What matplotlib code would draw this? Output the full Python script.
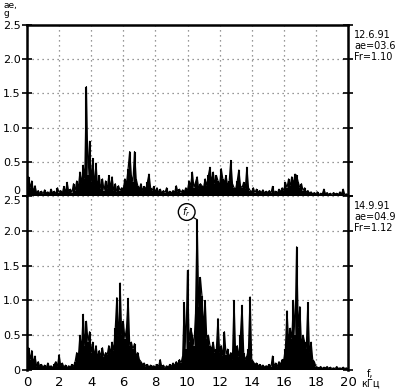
import matplotlib.pyplot as plt
import numpy as np

# spectrum values, 0.1 kHz step from 0 to 20 kHz
freq_khz = np.round(np.arange(0, 201) * 0.1, 1)

top_vals = [
    0.05, 0.28, 0.12, 0.22, 0.06, 0.15, 0.04, 0.08, 0.03, 0.07,
    0.03, 0.09, 0.04, 0.06, 0.03, 0.10, 0.04, 0.07, 0.03, 0.12,
    0.05, 0.08, 0.04, 0.14, 0.05, 0.20, 0.06, 0.10, 0.05, 0.18,
    0.08, 0.22, 0.12, 0.35, 0.18, 0.45, 0.25, 1.60, 0.30, 0.80,
    0.20, 0.55, 0.15, 0.48, 0.12, 0.30, 0.10, 0.25, 0.08, 0.22,
    0.10, 0.30, 0.12, 0.28, 0.08, 0.18, 0.06, 0.15, 0.08, 0.12,
    0.10, 0.25, 0.18, 0.40, 0.65, 0.30, 0.20, 0.65, 0.25, 0.15,
    0.10, 0.18, 0.08, 0.14, 0.10, 0.20, 0.32, 0.12, 0.08, 0.14,
    0.06, 0.12, 0.05, 0.10, 0.04, 0.08, 0.05, 0.12, 0.04, 0.07,
    0.04, 0.08, 0.05, 0.15, 0.06, 0.10, 0.05, 0.09, 0.06, 0.12,
    0.08, 0.22, 0.15, 0.35, 0.12, 0.20, 0.28, 0.10, 0.18, 0.15,
    0.12, 0.25, 0.15, 0.30, 0.42, 0.20, 0.35, 0.18, 0.30, 0.22,
    0.15, 0.40, 0.25, 0.20, 0.30, 0.15, 0.22, 0.52, 0.18, 0.12,
    0.10, 0.22, 0.38, 0.15, 0.12, 0.20, 0.10, 0.42, 0.12, 0.08,
    0.06, 0.12, 0.05, 0.10, 0.06, 0.08, 0.05, 0.09, 0.04, 0.07,
    0.05, 0.08, 0.04, 0.14, 0.05, 0.07, 0.04, 0.10, 0.06, 0.12,
    0.08, 0.20, 0.12, 0.25, 0.15, 0.28, 0.18, 0.32, 0.30, 0.20,
    0.12, 0.18, 0.08, 0.12, 0.05, 0.08, 0.04, 0.06, 0.03, 0.05,
    0.03, 0.06, 0.02, 0.04, 0.03, 0.10, 0.03, 0.05, 0.02, 0.04,
    0.02, 0.05, 0.03, 0.04, 0.02, 0.06, 0.03, 0.10, 0.02, 0.03,
    0.02,
]

bottom_vals = [
    0.05, 0.32, 0.15, 0.28, 0.10, 0.20, 0.05, 0.12, 0.04, 0.08,
    0.04, 0.07, 0.03, 0.10, 0.04, 0.06, 0.03, 0.08, 0.12, 0.05,
    0.22, 0.06, 0.10, 0.04, 0.07, 0.03, 0.06, 0.04, 0.08, 0.05,
    0.12, 0.25, 0.18, 0.50, 0.30, 0.80, 0.35, 0.70, 0.40, 0.55,
    0.25, 0.40, 0.20, 0.35, 0.18, 0.28, 0.20, 0.32, 0.18, 0.25,
    0.22, 0.35, 0.25, 0.40, 0.28, 0.60, 1.04, 0.40, 1.25, 0.50,
    0.70, 0.45, 0.60, 1.03, 0.35, 0.40, 0.30, 0.38, 0.20, 0.25,
    0.15, 0.12, 0.08, 0.10, 0.05, 0.08, 0.04, 0.07, 0.05, 0.06,
    0.04, 0.08, 0.05, 0.15, 0.04, 0.07, 0.03, 0.06, 0.04, 0.08,
    0.05, 0.10, 0.06, 0.12, 0.08, 0.15, 0.10, 0.20, 0.97, 0.30,
    1.43, 0.40, 0.60, 0.50, 0.35, 0.80, 2.16, 0.90, 1.33, 1.07,
    0.60, 1.00, 0.45, 0.50, 0.35, 0.30, 0.40, 0.25, 0.30, 0.74,
    0.25, 0.35, 0.20, 0.55, 0.22, 0.30, 0.18, 0.25, 0.15, 1.00,
    0.20, 0.35, 0.18, 0.50, 0.93, 0.25, 0.15, 0.20, 0.30, 1.05,
    0.15, 0.12, 0.08, 0.10, 0.06, 0.08, 0.05, 0.07, 0.04, 0.06,
    0.05, 0.08, 0.04, 0.20, 0.06, 0.10, 0.05, 0.12, 0.08, 0.15,
    0.15, 0.30, 0.85, 0.40, 0.60, 0.45, 1.00, 0.50, 1.77, 0.60,
    0.91, 0.35, 0.50, 0.40, 0.30, 0.97, 0.25, 0.40, 0.15, 0.12,
    0.05, 0.04, 0.03, 0.05, 0.02, 0.04, 0.03, 0.05, 0.02, 0.04,
    0.02, 0.03, 0.02, 0.05, 0.02, 0.03, 0.02, 0.04, 0.02, 0.03,
    0.02,
]

y_ticks = [0, 0.5, 1.0, 1.5, 2.0, 2.5]
y_labels = ["0", "0.5", "1.0", "1.5", "2.0", "2.5"]
x_ticks = list(range(0, 21, 2))

top_info = "12.6.91\nае=03.6\nFr=1.10"
bottom_info = "14.9.91\nае=04.9\nFr=1.12"

fig = plt.figure(figsize=(4.0, 3.91), dpi=100)
ax_top = fig.add_axes([0.0675, 0.4987, 0.8025, 0.4373])
ax_bot = fig.add_axes([0.0675, 0.0537, 0.8025, 0.4450])


def draw_panel(ax, vals, is_bottom):
    ax.vlines(freq_khz, 0, vals, color="black", lw=1.5)
    ax.plot(freq_khz, vals, color="black", lw=0.9)
    ax.set_xlim(0, 20)
    ax.set_ylim(0, 2.5)
    ax.set_yticks(y_ticks)
    ax.set_yticklabels(y_labels, fontsize=8)
    ax.set_xticks(x_ticks)
    ax.grid(True, color="#777777", linestyle=(0, (1, 3)), lw=0.9)
    ax.tick_params(axis="y", direction="inout", length=7, width=1.2, pad=1,
                   right=True)
    ax.tick_params(axis="x", length=0)
    for side in ("left", "right"):
        ax.spines[side].set_linewidth(1.8)
    ax.spines["bottom"].set_visible(False)
    labels = ax.get_yticklabels()
    if is_bottom:
        ax.spines["top"].set_visible(False)
        ax.set_xticklabels([str(t) for t in x_ticks], fontsize=9.5)
        ax.tick_params(axis="x", pad=4)
        labels[-1].set_va("top")
    else:
        ax.spines["top"].set_linewidth(1.8)
        ax.set_xticklabels([])
        labels[0].set_va("bottom")


draw_panel(ax_top, top_vals, False)
draw_panel(ax_bot, bottom_vals, True)

ax_top.text(1.02, 0.97, top_info, transform=ax_top.transAxes, fontsize=7,
            va="top", ha="left", linespacing=1.1)
ax_bot.text(1.02, 0.97, bottom_info, transform=ax_bot.transAxes, fontsize=7,
            va="top", ha="left", linespacing=1.1)

# resonance marker
peak_idx = int(np.argmax(bottom_vals))
ax_bot.text(9.95, 2.27, r"$f_r$", fontsize=7, ha="center", va="center",
            bbox=dict(boxstyle="circle,pad=0.15", fc="white", ec="black", lw=1.0))
ax_bot.plot([10.3, freq_khz[peak_idx]], [2.2, bottom_vals[peak_idx]],
            color="black", lw=0.8)

fig.text(0.01, 0.998, "ае,\ng", fontsize=6.5, va="top", ha="left", linespacing=0.85)
fig.text(0.925, 0.055, "f,\nкГц", fontsize=7, va="top", ha="center",
         linespacing=0.9)

fig.savefig("out.png", dpi=100)
